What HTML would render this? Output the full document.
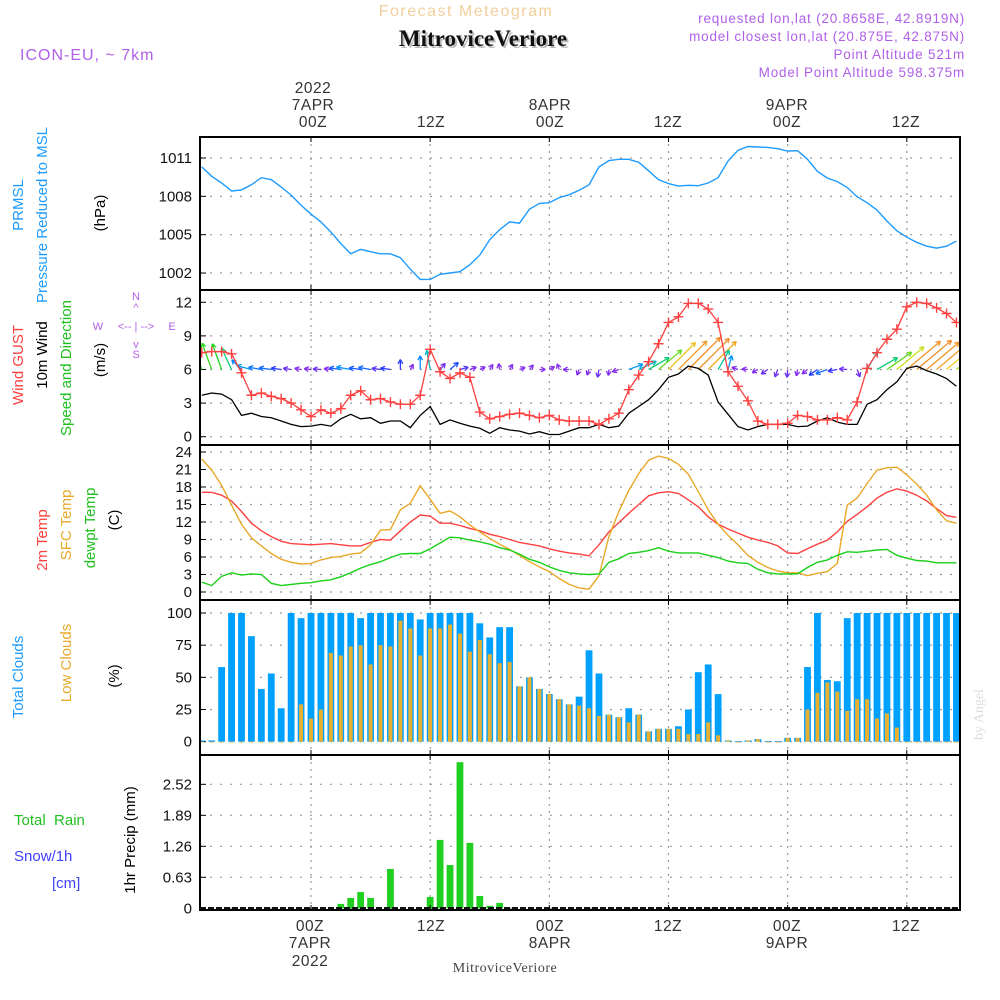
<!DOCTYPE html>
<html><head><meta charset="utf-8"><style>
html,body{margin:0;padding:0;background:#fff;}
svg{display:block;font-family:"Liberation Sans",sans-serif;}
</style></head><body>
<svg id="c" width="1000" height="1000" viewBox="0 0 1000 1000" xmlns="http://www.w3.org/2000/svg">
<defs><clipPath id="plotclip"><rect x="200" y="137" width="760" height="773"/></clipPath></defs>
<rect width="1000" height="1000" fill="#fff"/>
<text x="466" y="16" font-size="16" fill="#f2cf9c" text-anchor="middle" letter-spacing="1.5">Forecast Meteogram</text>
<text x="485" y="48" font-size="23" font-weight="bold" font-family="Liberation Serif,serif" fill="#bbb" text-anchor="middle">MitroviceVeriore</text>
<text x="483" y="46" font-size="23" font-weight="bold" font-family="Liberation Serif,serif" fill="#111" text-anchor="middle">MitroviceVeriore</text>
<text x="20" y="60" font-size="16" fill="#b060e8" letter-spacing="1">ICON-EU, ~ 7km</text>
<g font-size="13.5" fill="#b060e8" text-anchor="end" letter-spacing="0.8">
<text x="965" y="23">requested lon,lat (20.8658E, 42.8919N)</text>
<text x="965" y="41">model closest lon,lat (20.875E, 42.875N)</text>
<text x="965" y="59">Point Altitude 521m</text>
<text x="965" y="77">Model Point Altitude 598.375m</text>
</g>
<text transform="translate(983,740) rotate(-90)" font-size="14" font-family="Liberation Serif,serif" fill="#ddd">by Angel</text>
<g id="g"></g>
</svg>
<script>
const hours=[];for(let h=-11;h<=65;h++)hours.push(h);
const pressure=[1010.3,1009.57,1009.04,1008.42,1008.5,1008.9,1009.46,1009.3,1008.73,1008.1,1007.3,1006.6,1006.0,1005.2,1004.3,1003.5,1003.85,1003.67,1003.5,1003.5,1003.2,1002.3,1001.5,1001.5,1001.9,1002.0,1002.1,1002.65,1003.4,1004.6,1005.4,1006.0,1005.9,1007.0,1007.45,1007.5,1007.9,1008.13,1008.47,1008.9,1010.3,1010.8,1010.9,1010.9,1010.66,1010.0,1009.3,1009.0,1008.8,1008.86,1008.83,1009.04,1009.46,1010.77,1011.6,1011.9,1011.86,1011.83,1011.73,1011.55,1011.57,1010.9,1009.96,1009.43,1009.15,1008.7,1007.97,1007.5,1006.93,1006.07,1005.3,1004.8,1004.4,1004.1,1003.95,1004.1,1004.5];
const gust=[7.5,7.6,7.6,7.4,5.7,3.7,3.9,3.6,3.4,3.0,2.4,1.8,2.4,2.1,2.5,3.7,4.1,3.3,3.4,3.1,2.9,2.9,3.7,7.8,5.8,5.2,5.7,5.3,2.2,1.6,1.8,2.0,2.1,1.9,1.7,1.9,1.5,1.4,1.4,1.4,1.1,1.6,2.1,4.2,5.5,6.7,8.3,10.2,10.7,11.9,11.9,11.4,10.2,5.8,4.5,3.2,1.4,1.1,1.1,1.2,1.9,1.8,1.5,1.5,1.7,1.5,3.1,6.1,7.5,8.7,9.6,11.6,12.0,11.9,11.5,11.0,10.2];
const wind10=[3.7,3.9,3.8,3.3,1.9,2.1,1.8,1.7,1.4,1.1,0.9,0.95,1.1,0.95,1.6,2.0,1.6,1.7,1.2,1.4,1.4,0.8,1.9,2.7,1.1,1.5,1.2,0.95,0.75,0.3,0.8,0.6,0.5,0.24,0.45,0.2,0.2,0.5,0.8,0.8,1.1,0.8,0.95,2.1,2.7,3.3,4.2,5.3,5.6,6.3,6.1,5.5,3.1,2.0,0.9,0.6,0.9,1.1,1.1,1.1,0.9,0.95,1.4,1.7,1.3,1.1,1.1,2.9,3.3,4.2,4.9,6.1,6.3,5.9,5.6,5.2,4.5];
const windDir=[110,110,110,115,135,165,170,172,172,172,170,172,175,172,172,170,172,170,172,172,90,60,90,100,50,40,15,20,25,60,100,60,20,50,0,30,110,180,250,250,260,265,200,20,25,30,40,45,45,45,45,45,60,75,160,175,210,215,250,265,260,220,215,200,190,175,290,60,30,35,40,40,40,40,40,40,40];
const t2m=[17.1,17.1,16.6,15.6,13.8,11.8,10.5,9.5,8.7,8.3,8.2,8.1,8.2,8.3,8.1,7.9,7.9,8.5,9.0,8.9,10.5,12,13.2,13,11.8,11.8,11.4,10.9,10.5,9.9,9.5,9.0,8.5,8.2,7.9,7.4,7.0,6.7,6.5,6.2,8.1,10.3,11.9,13.5,15.0,16.5,17.0,17.2,16.9,15.8,14.6,12.9,11.6,10.8,10.1,9.4,8.9,8.5,7.9,6.7,6.6,7.4,8.2,8.9,10.3,12.1,13.3,14.6,16.1,17.1,17.7,17.3,16.6,15.6,14.3,13.1,12.8];
const tsfc=[22.8,20.9,18.3,14.9,11.6,9.3,7.9,6.6,5.6,5.1,4.8,4.9,5.5,5.9,6.1,6.5,6.7,8.1,10.6,10.7,14.1,15.2,18.2,15.9,13.5,13.9,12.9,11.5,10.3,9.2,8.2,7.3,6.3,5.2,4.3,3.5,2.3,1.3,0.7,0.5,2.8,9.5,13.8,17.4,20.3,22.6,23.3,22.9,21.9,20.2,17.2,14.1,11.6,9.7,8.1,6.3,5.1,4.2,3.6,3.3,3.3,2.8,3.2,3.5,4.9,14.9,16.1,18.6,20.9,21.3,21.4,20.1,18.5,16.6,14.1,12.2,11.8];
const dewpt=[1.7,1.1,2.7,3.3,2.9,3.1,3.0,1.5,1.1,1.3,1.5,1.6,1.9,2.1,2.6,3.3,4.1,4.7,5.2,5.9,6.5,6.6,6.6,7.4,8.4,9.4,9.3,8.9,8.6,8.2,7.6,7.2,6.5,5.6,5.1,4.3,3.7,3.3,3.1,3.0,3.1,5.1,5.7,6.6,6.8,7.1,7.6,7.0,6.7,6.7,6.7,6.3,5.9,5.3,5.0,4.9,3.9,3.3,3.1,3.1,3.1,4.2,5.1,5.5,6.3,6.9,6.8,7.0,7.2,7.3,6.3,5.8,5.4,5.3,5.0,5.0,5.0];
const totalClouds=[1,1,58,100,100,82,41,53,26,100,96,100,100,100,100,100,96,100,100,100,100,100,95,100,100,100,100,100,92,81,89,89,43,50,41,37,33,29,35,71,53,21,19,26,21,8,10,10,12,25,54,60,37,1,0.5,1,2,0.5,0.5,3,3,58,100,48,47,96,100,100,100,100,100,100,100,100,100,100,100];
const lowClouds=[0,0,0,0,0,0,0,0,0,0,29,18,25,69,67,74,75,60,75,74,94,88,67,88,88,91,84,70,79,68,61,62,43,50,41,37,33,29,28,26,20,21,19,15,21,8,10,10,10,6,6,15,5,1,0,1,2,0,0,3,3,25,38,46,39,24,33,33,18,22,11,0,0,0,0,0,0];
const precip=[0,0,0,0,0,0,0,0,0,0,0,0,0,0,0.09,0.21,0.33,0.21,0,0.80,0,0,0,0.23,1.39,0.88,2.97,1.33,0.25,0.05,0.11,0,0,0,0,0,0,0,0,0,0,0,0,0,0,0,0,0,0,0,0,0,0,0,0,0,0,0,0,0,0,0,0,0,0,0,0,0,0,0,0,0,0,0,0,0,0];
const pTicks=[1002,1005,1008,1011];
const wTicks=[0,3,6,9,12];
const tTicks=[0,3,6,9,12,15,18,21,24];
const cTicks=[0,25,50,75,100];
const rTicks=[0,0.63,1.26,1.89,2.52];
const timeTicks=[0,12,24,36,48,60];

const NS='http://www.w3.org/2000/svg';
const G=document.getElementById('g');
function mk(tag,attrs,parent){const e=document.createElementNS(NS,tag);for(const k in attrs)e.setAttribute(k,attrs[k]);(parent||G).appendChild(e);return e;}
const X0=200,X1=960;
const xs=h=>311+9.93*h;
const yP=v=>158+(1011-v)*12.78;
const yW=v=>436.7-v*11.2;
const yT=v=>592-v*5.833;
const yC=v=>741.7-v*1.287;
const yR=v=>908.3-v*49.2;
const panels=[[137,290],[290,445],[445,600],[600,755],[755,910]];
const pnames=['pressure-panel','wind-panel','temperature-panel','clouds-panel','precip-panel'];

panels.forEach((p,i)=>{
  timeTicks.forEach(t=>{
    const l=mk('line',{x1:xs(t),x2:xs(t),y1:p[0],y2:p[1],stroke:'#999','stroke-width':1.2,'stroke-dasharray':'2 5'});
    
    
  });
});
function hgrid(ticks,yf,lab,fmt){
  ticks.forEach(v=>{
    const l=mk('line',{x1:X0,x2:X1,y1:yf(v),y2:yf(v),stroke:'#999','stroke-width':1.2,'stroke-dasharray':'2 8'});
    
    
    const t=mk('text',{x:192,y:yf(v)+5,'font-size':15,'text-anchor':'end',fill:'#111'});
    t.textContent=fmt?fmt(v):v;
    
    
    mk('line',{x1:X0,x2:X0+6,y1:yf(v),y2:yf(v),stroke:'#000','stroke-width':1});
  });
}
hgrid(pTicks,yP,'pressure');
hgrid(wTicks,yW,'wind');
hgrid(tTicks,yT,'temp');
hgrid(cTicks,yC,'cloud');
hgrid(rTicks,yR,'precip',v=>v===0?'0':v.toFixed(2));

const PG=mk('g',{'clip-path':'url(#plotclip)'});



let d=pressure.map((v,i)=>(i?'L':'M')+xs(hours[i]).toFixed(1)+' '+yP(v).toFixed(1)).join(' ');
let pl=mk('path',{d:d,fill:'none',stroke:'#1e9bff','stroke-width':1.4},PG);



function spdColor(s){
  const stops=[[0,[140,60,240]],[1.0,[130,40,240]],[1.4,[40,60,255]],[2.0,[0,150,255]],[3.0,[0,200,170]],[3.8,[30,210,30]],[4.6,[170,225,30]],[5.1,[230,220,30]],[5.6,[240,160,40]],[7,[240,120,40]]];
  for(let i=1;i<stops.length;i++){if(s<=stops[i][0]){const a=stops[i-1],b=stops[i];const f=(s-a[0])/(b[0]-a[0]);const c=a[1].map((v,j)=>Math.round(v+(b[1][j]-v)*f));return 'rgb('+c.join(',')+')';}}
  return 'rgb(240,120,40)';
}
wind10.forEach((s,i)=>{
  const x=xs(hours[i]),y=yW(6);
  const L=Math.max(6,s*7.2);const a=windDir[i]*Math.PI/180;
  const x2=x+L*Math.cos(a),y2=y-L*Math.sin(a);
  const c=spdColor(s);
  const g=mk('g',{stroke:c,'stroke-width':1.3,fill:'none'},PG);
  
  
  mk('line',{x1:x,y1:y,x2:x2,y2:y2},g);
  const hl=5;
  [a+Math.PI-0.5,a+Math.PI+0.5].forEach(b=>mk('line',{x1:x2,y1:y2,x2:x2+hl*Math.cos(b),y2:y2-hl*Math.sin(b)},g));
});
d=wind10.map((v,i)=>(i?'L':'M')+xs(hours[i]).toFixed(1)+' '+yW(v).toFixed(1)).join(' ');
let wl=mk('path',{d:d,fill:'none',stroke:'#000','stroke-width':1.3},PG);


d=gust.map((v,i)=>(i?'L':'M')+xs(hours[i]).toFixed(1)+' '+yW(v).toFixed(1)).join(' ');
let gl=mk('path',{d:d,fill:'none',stroke:'#ff4040','stroke-width':1.3},PG);


gust.forEach((v,i)=>{
  const x=xs(hours[i]),y=yW(v);
  const m=mk('path',{d:`M${x-5} ${y}H${x+5}M${x} ${y-5}V${y+5}`,stroke:'#ff4040','stroke-width':1.4},PG);
  
  
});
[[t2m,'#ff4040','temp-2m-line'],[tsfc,'#e8a828','temp-sfc-line'],[dewpt,'#18d018','dewpoint-line']].forEach(s=>{
  const dd=s[0].map((v,i)=>(i?'L':'M')+xs(hours[i]).toFixed(1)+' '+yT(v).toFixed(1)).join(' ');
  const l=mk('path',{d:dd,fill:'none',stroke:s[1],'stroke-width':1.4},PG);
  
  
});
totalClouds.forEach((v,i)=>{
  const x=xs(hours[i]);
  const r=mk('rect',{x:x-3.4,y:yC(v),width:6.8,height:Math.max(0.8,yC(0)-yC(v)),fill:'#00a0ff'},PG);
  
  
});
lowClouds.forEach((v,i)=>{
  const x=xs(hours[i]);
  const r=mk('rect',{x:x-2,y:yC(v),width:4,height:Math.max(0.8,yC(0)-yC(v)),fill:'#e8b030'},PG);
  
  
});
precip.forEach((v,i)=>{
  if(v<=0)return;
  const x=xs(hours[i]);
  const r=mk('rect',{x:x-3.4,y:yR(v),width:6.8,height:yR(0)-yR(v),fill:'#20d020'},PG);
  
  
});
mk('line',{x1:X0,x2:X1,y1:yR(0),y2:yR(0),stroke:'#111','stroke-width':2.5,'stroke-dasharray':'6 2'});
panels.forEach((p,i)=>{
  const r=mk('rect',{x:X0,y:p[0],width:X1-X0,height:p[1]-p[0],fill:'none',stroke:'#000','stroke-width':2});
  
  
  timeTicks.forEach(t=>{mk('line',{x1:xs(t),x2:xs(t),y1:p[0],y2:p[0]+5,stroke:'#000'});mk('line',{x1:xs(t),x2:xs(t),y1:p[1]-5,y2:p[1],stroke:'#000'});});
});
</script>
<svg style="position:absolute;left:0;top:0" width="1000" height="1000">
<g font-family="Liberation Sans,sans-serif" font-size="15.5" fill="#333" text-anchor="middle" letter-spacing="0.5">
<text x="313" y="93">2022</text>
<text x="313" y="110">7APR</text>
<text x="313" y="127">00Z</text>
<text x="431" y="127">12Z</text>
<text x="550" y="110">8APR</text>
<text x="550" y="127">00Z</text>
<text x="668" y="127">12Z</text>
<text x="787" y="110">9APR</text>
<text x="787" y="127">00Z</text>
<text x="906" y="127">12Z</text>
<text x="310" y="931">00Z</text>
<text x="310" y="948">7APR</text>
<text x="310" y="966">2022</text>
<text x="431" y="931">12Z</text>
<text x="550" y="931">00Z</text>
<text x="550" y="948">8APR</text>
<text x="668" y="931">12Z</text>
<text x="787" y="931">00Z</text>
<text x="787" y="948">9APR</text>
<text x="906" y="931">12Z</text>
</g>
<text x="505" y="972" font-family="Liberation Serif,serif" font-size="14" fill="#444" text-anchor="middle" letter-spacing="0.5">MitroviceVeriore</text>
<g font-family="Liberation Sans,sans-serif" font-size="15" text-anchor="middle">
<text transform="translate(23,205) rotate(-90)" fill="#1e9bff">PRMSL</text>
<text transform="translate(47,215) rotate(-90)" fill="#1e9bff">Pressure Reduced to MSL</text>
<text transform="translate(105,213) rotate(-90)" fill="#000">(hPa)</text>
<text transform="translate(23,365) rotate(-90)" fill="#ff4040">Wind GUST</text>
<text transform="translate(47,355) rotate(-90)" fill="#000">10m Wind</text>
<text transform="translate(71,368) rotate(-90)" fill="#20c020">Speed and Direction</text>
<text transform="translate(105,360) rotate(-90)" fill="#000">(m/s)</text>
<text transform="translate(47,540) rotate(-90)" fill="#ff4040">2m Temp</text>
<text transform="translate(71,525) rotate(-90)" fill="#e8a828">SFC Temp</text>
<text transform="translate(95,528) rotate(-90)" fill="#20c020">dewpt Temp</text>
<text transform="translate(119,520) rotate(-90)" fill="#000">(C)</text>
<text transform="translate(23,677) rotate(-90)" fill="#1e9bff">Total Clouds</text>
<text transform="translate(71,663) rotate(-90)" fill="#e8a828">Low Clouds</text>
<text transform="translate(119,676) rotate(-90)" fill="#000">(%)</text>
<text transform="translate(135,840) rotate(-90)" fill="#000">1hr Precip (mm)</text>
</g>
<g font-family="Liberation Sans,sans-serif" font-size="15">
<text x="14" y="825" fill="#20c020" xml:space="preserve">Total  Rain</text>
<text x="14" y="861" fill="#4040ff">Snow/1h</text>
<text x="52" y="888" fill="#4040ff">[cm]</text>
</g>
<g font-family="Liberation Sans,sans-serif" font-size="11" fill="#b060e8" text-anchor="middle">
<text x="136" y="300">N</text><text x="136" y="311">^</text>
<text x="98" y="330">W</text><text x="136" y="330">&lt;-- | --&gt;</text><text x="172" y="330">E</text>
<text x="136" y="348">v</text><text x="136" y="358">S</text>
</g>
</svg>
</body></html>
